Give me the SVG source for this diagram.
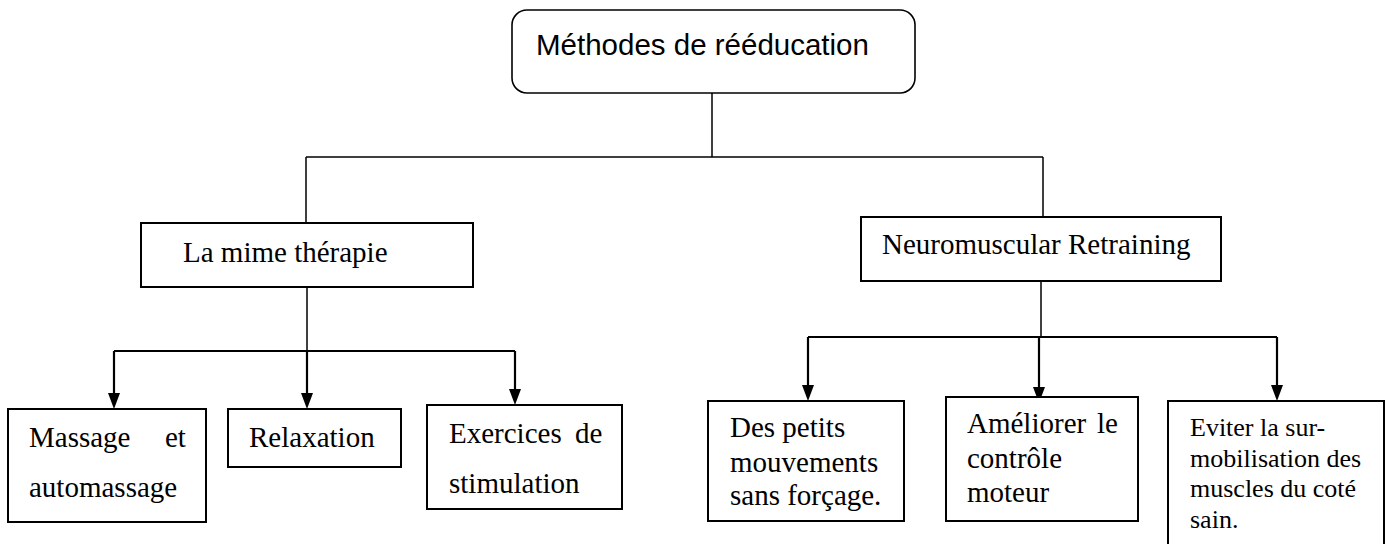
<svg xmlns="http://www.w3.org/2000/svg" width="1387" height="544" viewBox="0 0 1387 544">
<style>
.box{fill:#fff;stroke:#000;stroke-width:2}
.t{font-family:"Liberation Serif","Times New Roman",serif;font-size:29px;fill:#000}
.s{font-family:"Liberation Sans",Arial,sans-serif;font-size:29.5px;fill:#000}
.c{fill:none;stroke:#000;stroke-width:1.5}
.a{fill:none;stroke:#000;stroke-width:2.2}
.h{fill:#000;stroke:none}
</style>
<rect width="1387" height="544" fill="#fff"/>
<g id="connectors">
<path class="c" d="M712 93V157M306 157H1043M306 157V223M1043 157V217"/>
<path class="c" d="M307 287V351M1041 281V337"/>
<path class="a" d="M114 351H515M114 351V396M307 351V396M515 351V392"/>
<path class="a" d="M808 337H1277M808 337V388M1039 337V390M1277 337V389"/>
<polygon class="h" points="108,393 120,393 114,409"/>
<polygon class="h" points="301,393 313,393 307,409"/>
<polygon class="h" points="509,389 521,389 515,405"/>
<polygon class="h" points="802,385 814,385 808,401"/>
<polygon class="h" points="1033,387 1045,387 1039,403"/>
<polygon class="h" points="1271,385 1283,385 1277,401"/>
</g>
<g id="root">
<rect class="box" x="512" y="10" width="403" height="83" rx="15" ry="15" style="stroke-width:1.6"/>
<text class="s" x="536" y="55">Méthodes de rééducation</text>
</g>
<g id="mime">
<rect class="box" x="141" y="223" width="332" height="64"/>
<text class="t" x="183" y="262">La mime thérapie</text>
</g>
<g id="neuro">
<rect class="box" x="861" y="217" width="360" height="64"/>
<text class="t" x="882" y="254">Neuromuscular Retraining</text>
</g>
<g id="massage">
<rect class="box" x="8" y="409" width="198" height="113"/>
<text class="t" x="29" y="447">Massage<tspan x="165">et</tspan></text>
<text class="t" x="29" y="497">automassage</text>
</g>
<g id="relaxation">
<rect class="box" x="228" y="409" width="173" height="58"/>
<text class="t" x="249" y="447">Relaxation</text>
</g>
<g id="exercices">
<rect class="box" x="427" y="405" width="195" height="104"/>
<text class="t" x="449" y="443">Exercices<tspan x="575">de</tspan></text>
<text class="t" x="449" y="493">stimulation</text>
</g>
<g id="petits">
<rect class="box" x="708" y="401" width="196" height="120"/>
<text class="t" x="730" y="437">Des petits</text>
<text class="t" x="730" y="472">mouvements</text>
<text class="t" x="730" y="505">sans forçage.</text>
</g>
<g id="ameliorer">
<rect class="box" x="946" y="397" width="192" height="124"/>
<text class="t" x="967" y="433">Améliorer<tspan x="1097">le</tspan></text>
<text class="t" x="967" y="468">contrôle</text>
<text class="t" x="967" y="502">moteur</text>
</g>
<g id="eviter">
<rect class="box" x="1168" y="401" width="216" height="160"/>
<text class="t" x="1190" y="436" style="font-size:26px">Eviter la sur-</text>
<text class="t" x="1190" y="467" style="font-size:26px">mobilisation des</text>
<text class="t" x="1190" y="497" style="font-size:26px">muscles du coté</text>
<text class="t" x="1190" y="528" style="font-size:26px">sain.</text>
</g>
</svg>
